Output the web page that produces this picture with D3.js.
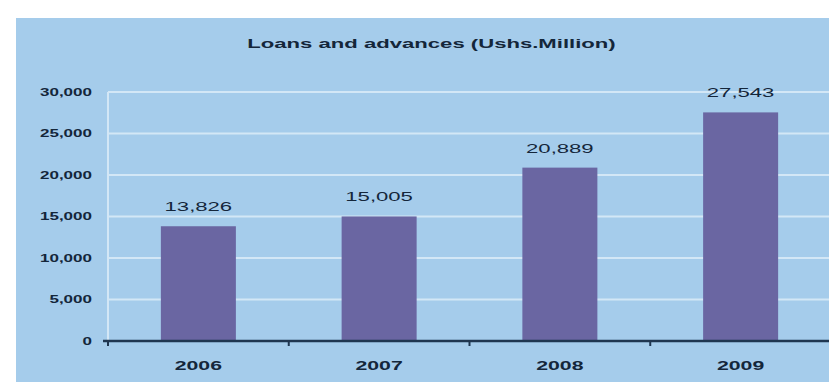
<!DOCTYPE html>
<html>
<head>
<meta charset="utf-8">
<script src="https://cdn.jsdelivr.net/npm/d3@7"></script>
<style>
  html, body { margin: 0; padding: 0; background: #ffffff; }
  svg { display: block; }
  text { font-family: "Liberation Sans", Arial, sans-serif; fill: #14263a; }
</style>
</head>
<body>
<script>
// Loans and advances by year (Ushs. Million)
const categories = ["2006", "2007", "2008", "2009"];
const values = [13826, 15005, 20889, 27543];
const valueLabels = ["13,826", "15,005", "20,889", "27,543"];
const yTicks = [0, 5000, 10000, 15000, 20000, 25000, 30000];
const title = "Loans and advances (Ushs.Million)";

const W = 829, H = 382;
const stretch = 1.7; // wide lettering used throughout the chart

const svg = d3.select("body").append("svg")
  .attr("width", W).attr("height", H);

// panel background
svg.append("rect")
  .attr("x", 16).attr("y", 18)
  .attr("width", W - 16).attr("height", H - 18)
  .attr("fill", "#a5cceb");

const x = d3.scaleBand()
  .domain(categories)
  .range([108, 831])
  .paddingInner(0.585)
  .paddingOuter(0.2925);

const y = d3.scaleLinear()
  .domain([0, 30000])
  .range([341, 92]);

// widen a text element horizontally around its anchor
function widen(sel) {
  sel.each(function () {
    const w = this.getComputedTextLength();
    d3.select(this)
      .attr("textLength", w * stretch)
      .attr("lengthAdjust", "spacingAndGlyphs");
  });
}

// horizontal gridlines
svg.append("g")
  .selectAll("line")
  .data(yTicks.filter(d => d > 0))
  .join("line")
  .attr("x1", 108).attr("x2", W)
  .attr("y1", d => y(d)).attr("y2", d => y(d))
  .attr("stroke", "#d3e7f6")
  .attr("stroke-width", 2);

// light vertical axis line
svg.append("line")
  .attr("x1", 108).attr("x2", 108)
  .attr("y1", y(30000)).attr("y2", y(0))
  .attr("stroke", "#d3e7f6")
  .attr("stroke-width", 2);

// y tick labels
svg.append("g")
  .selectAll("text")
  .data(yTicks)
  .join("text")
  .attr("x", 92)
  .attr("y", d => y(d) + 3.8)
  .attr("text-anchor", "end")
  .attr("font-size", 10)
  .attr("font-weight", "bold")
  .text(d => d3.format(",")(d))
  .call(widen);

// bars
svg.append("g")
  .selectAll("rect")
  .data(values)
  .join("rect")
  .attr("x", (d, i) => x(categories[i]))
  .attr("width", x.bandwidth())
  .attr("y", d => y(d))
  .attr("height", d => y(0) - y(d))
  .attr("fill", "#6a66a2");

// value labels
svg.append("g")
  .selectAll("text")
  .data(values)
  .join("text")
  .attr("x", (d, i) => x(categories[i]) + x.bandwidth() / 2)
  .attr("y", d => y(d) - 15)
  .attr("text-anchor", "middle")
  .attr("font-size", 13)
  .text((d, i) => valueLabels[i])
  .call(widen);

// x axis line with ticks at category boundaries
const axisColor = "#1f3650";
svg.append("line")
  .attr("x1", 103).attr("x2", W)
  .attr("y1", y(0)).attr("y2", y(0))
  .attr("stroke", axisColor)
  .attr("stroke-width", 2.5);

const boundaries = categories.map(c => x(c) + x.bandwidth() / 2 - x.step() / 2);
svg.append("g")
  .selectAll("line")
  .data(boundaries)
  .join("line")
  .attr("x1", d => d).attr("x2", d => d)
  .attr("y1", y(0)).attr("y2", y(0) + 5)
  .attr("stroke", axisColor)
  .attr("stroke-width", 2);

// category labels
svg.append("g")
  .selectAll("text")
  .data(categories)
  .join("text")
  .attr("x", d => x(d) + x.bandwidth() / 2)
  .attr("y", 369.5)
  .attr("text-anchor", "middle")
  .attr("font-size", 12.5)
  .attr("font-weight", "bold")
  .text(d => d)
  .call(widen);

// title
svg.append("text")
  .attr("x", 431.5)
  .attr("y", 47.5)
  .attr("text-anchor", "middle")
  .attr("font-size", 13)
  .attr("font-weight", "bold")
  .text(title)
  .call(widen);
</script>
</body>
</html>
